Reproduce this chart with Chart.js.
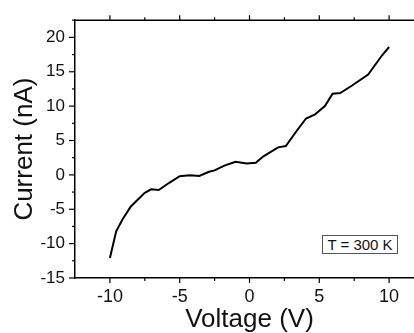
<!DOCTYPE html>
<html>
<head>
<meta charset="utf-8">
<script src="https://cdn.jsdelivr.net/npm/chart.js@4"></script>
<style>
  html, body { margin: 0; padding: 0; background: #fff; overflow: hidden; }
  #wrap { position: relative; width: 430px; height: 333px; }
  #note {
    position: absolute; left: 322px; top: 235px; width: 74px; height: 17px;
    border: 1px solid #555; box-sizing: content-box;
    font: 15px "Liberation Sans", Arial, sans-serif; color: #111;
    line-height: 17px; text-align: center; background: #fff;
  }
</style>
</head>
<body>
<div id="wrap">
  <canvas id="c" width="430" height="333"></canvas>
  <div id="note">T = 300 K</div>
</div>
<script>
const voltage = [-10, -9.55, -9.1, -8.5, -7.5, -7.05, -6.5, -5.75, -5.0, -4.3, -3.6, -2.9, -2.5, -1.8, -1.0, -0.2, 0.45, 1.0, 2.05, 2.6, 3.4, 4.05, 4.7, 5.4, 5.95, 6.5, 7.35, 8.5, 9.5, 10];
const current = [-12.1, -8.2, -6.5, -4.6, -2.6, -2.1, -2.2, -1.15, -0.2, -0.05, -0.15, 0.45, 0.65, 1.35, 1.9, 1.65, 1.75, 2.7, 4.0, 4.2, 6.45, 8.2, 8.8, 10.0, 11.8, 11.9, 13.0, 14.6, 17.4, 18.6];

const xMajorTicks = [-10, -5, 0, 5, 10];
const xMinorTicks = [-7.5, -2.5, 2.5, 7.5];
const yMajorTicks = [-15, -10, -5, 0, 5, 10, 15, 20];
const yMinorTicks = [-12.5, -7.5, -2.5, 2.5, 7.5, 12.5, 17.5, 22.5];
const xRange = [-12.5, 12.5];
const yRange = [-15, 22.5];
const xTitle = 'Voltage (V)';
const yTitle = 'Current (nA)';

const FONT = '"Liberation Sans", Arial, sans-serif';

const tickPlugin = {
  id: 'originTicks',
  afterDraw(chart) {
    const { ctx, chartArea: a, scales: { x, y } } = chart;
    ctx.save();
    ctx.strokeStyle = '#000';
    ctx.lineWidth = 1.5;
    ctx.lineCap = 'butt';
    // top axis line
    ctx.beginPath();
    ctx.moveTo(a.left - 0.75, a.top);
    ctx.lineTo(a.right, a.top);
    ctx.stroke();
    ctx.lineWidth = 1.2;
    const seg = (x1, y1, x2, y2) => { ctx.beginPath(); ctx.moveTo(x1, y1); ctx.lineTo(x2, y2); ctx.stroke(); };
    xMajorTicks.forEach(v => {
      const px = x.getPixelForValue(v);
      seg(px, a.bottom, px, a.bottom + 5);
      seg(px, a.top, px, a.top - 5);
    });
    xMinorTicks.forEach(v => {
      const px = x.getPixelForValue(v);
      seg(px, a.bottom, px, a.bottom + 3);
      seg(px, a.top, px, a.top - 3);
    });
    yMajorTicks.forEach(v => {
      const py = y.getPixelForValue(v);
      seg(a.left, py, a.left - 6, py);
    });
    yMinorTicks.forEach(v => {
      const py = y.getPixelForValue(v);
      seg(a.left, py, a.left - 3, py);
    });
    ctx.restore();
  }
};

new Chart(document.getElementById('c'), {
  type: 'scatter',
  data: {
    datasets: [{
      label: 'T = 300 K',
      data: voltage.map((v, i) => ({ x: v, y: current[i] })),
      showLine: true,
      borderColor: '#000',
      borderWidth: 2,
      pointRadius: 0,
      tension: 0
    }]
  },
  options: {
    responsive: false,
    animation: false,
    layout: { padding: { top: 19, right: 6, left: 0, bottom: 0 } },
    plugins: { legend: { display: false }, tooltip: { enabled: false } },
    scales: {
      x: {
        type: 'linear',
        min: xRange[0], max: xRange[1],
        afterBuildTicks: s => { s.ticks = xMajorTicks.map(v => ({ value: v })); },
        afterFit: s => { s.height = 55; },
        grid: { display: false, drawTicks: false },
        border: { display: true, color: '#000', width: 1.5 },
        ticks: { color: '#111', font: { family: FONT, size: 18 }, padding: 8, maxRotation: 0 },
        title: { display: true, text: xTitle, color: '#111', font: { family: FONT, size: 26, lineHeight: 1 }, padding: 0 }
      },
      y: {
        type: 'linear',
        min: yRange[0], max: yRange[1],
        afterBuildTicks: s => { s.ticks = yMajorTicks.map(v => ({ value: v })); },
        afterFit: s => { s.width = 75; },
        grid: { display: false, drawTicks: false },
        border: { display: true, color: '#000', width: 1.5 },
        ticks: { color: '#111', font: { family: FONT, size: 17 }, padding: 10 },
        title: { display: true, text: yTitle, color: '#111', font: { family: FONT, size: 26, lineHeight: 1 }, padding: { top: 12, bottom: 0 } }
      }
    }
  },
  plugins: [tickPlugin]
});
</script>
</body>
</html>
